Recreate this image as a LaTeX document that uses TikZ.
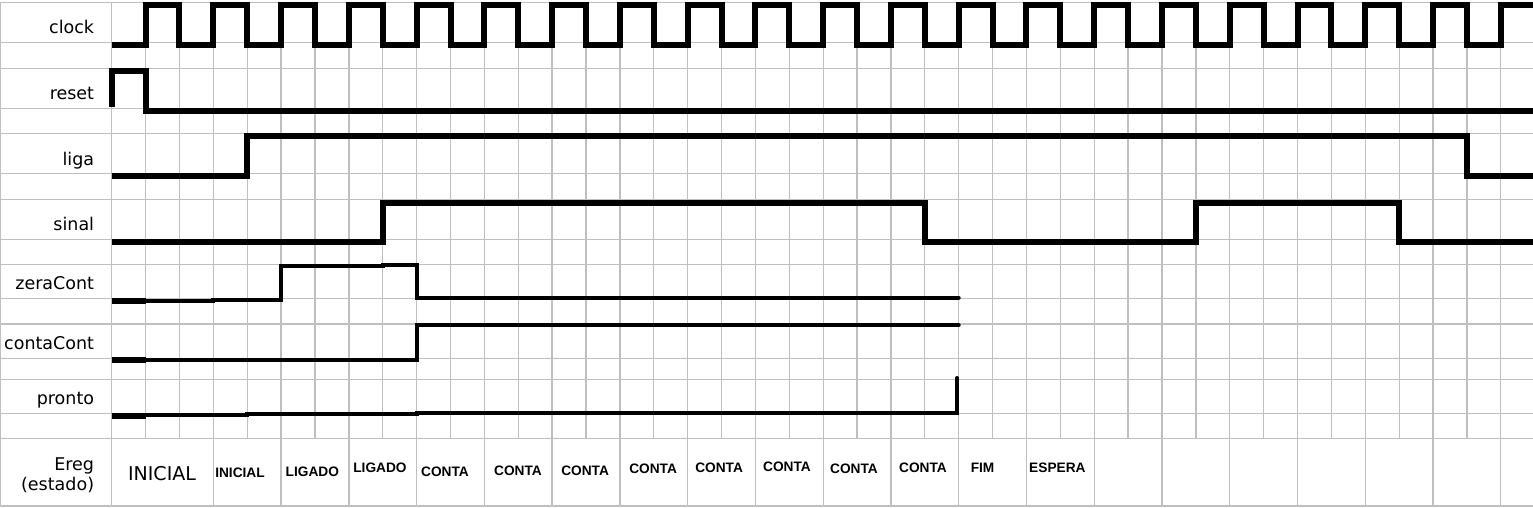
\documentclass[tikz,border=0pt]{standalone}
\usepackage{fontspec}
\setmainfont{DejaVu Sans}
\newfontfamily\statefont{Liberation Sans}
\usepackage{tikz}
\usetikzlibrary{positioning}
\definecolor{gridgray}{RGB}{191,191,191}

\begin{document}
\begin{tikzpicture}[
    x=16.939pt, y=-0.5pt,
    gridline/.style={draw=gridgray,line width=0.65pt},
    wave/.style={line width=3pt},
    thinwave/.style={line width=2pt,line cap=round},
    siglabel/.style={anchor=base east,inner sep=0pt,align=right,font=\fontsize{8.75}{10.35}\selectfont},
    statelabel/.style={anchor=base,inner sep=0pt,font=\statefont\bfseries\fontsize{6.85}{8}\selectfont}
]
\useasboundingbox (-3.297,0) rectangle (41.951,507);
% grid
\foreach \y in {2.5,42.3,68.3,108.3,133.3,173.3,199.3,239.3,264.3,298.3,324,358.3,379.3,413.3,438.3,506}
  \draw[gridline] (-3.297,\y) -- (41.951,\y);
\draw[gridline] (-3.276,2.5) -- (-3.276,506);
\foreach \k in {0,...,41}
  \draw[gridline] (\k,2.5) -- (\k,438.3);
\foreach \k in {0,3,5,...,41}
  \draw[gridline] (\k,438.3) -- (\k,506);

% signal names
\node[siglabel] (clk) at (-0.508,33.3) {clock};
\node[siglabel] (rst) at (-0.508,99.3) {reset};
\node[siglabel] (liga) at (-0.508,165) {liga};
\node[siglabel] (sinal) at (-0.508,230) {sinal};
\node[siglabel] (zera) at (-0.508,289.3) {zeraCont};
\node[siglabel] (conta) at (-0.508,349) {contaCont};
\node[siglabel] (pronto) at (-0.508,404) {pronto};
\node[siglabel] (ereg) at (-0.508,490.7) {Ereg\\(estado)};

% waveforms
\draw[wave] (0,45.3) \foreach \k in {1,3,...,39} { -- (\k,45.3) -- (\k,5.3) -- (\k+1,5.3) -- (\k+1,45.3) }
  -- (41,45.3) -- (41,5.3) -- (41.951,5.3);
\draw[wave] (0,107) -- (0,71.5) -- (1,71.5) -- (1,111.3) -- (41.951,111.3);
\draw[wave] (0,176.3) -- (4,176.3) -- (4,136.3) -- (40,136.3) -- (40,176.3) -- (41.951,176.3);
\draw[wave] (0,242.3) -- (8,242.3) -- (8,202.7) -- (24,202.7) -- (24,242.3) -- (32,242.3)
  -- (32,202.7) -- (38,202.7) -- (38,242.3) -- (41.951,242.3);

\draw[wave] (0,301) -- (1,301);
\draw[thinwave] (1,301) -- (3,301) -- (3,299.7) -- (5,299.7) -- (5,265.5) -- (8,265.5)
  -- (8,264.5) -- (9,264.5) -- (9,297.7) -- (25,297.7);
\draw[wave] (0,360.3) -- (1,360.3);
\draw[thinwave] (1,359.8) -- (9,359.8) -- (9,324.5) -- (16.5,324.5) -- (16.5,325.3) -- (25,325.3);
\draw[wave] (0,416.3) -- (1,416.3);
\draw[thinwave] (1,415.3) -- (4,415.3) -- (4,414) -- (9,414) -- (9,412.6) -- (24.95,412.6) -- (24.95,378);

% states
\node[siglabel,anchor=base,font=\fontsize{9.5}{11}\selectfont] (s0) at (1.485,480) {INICIAL};
\foreach \x/\y/\txt [count=\i] in {3.787/477.3/INICIAL, 5.921/476.7/LIGADO, 7.919/472.7/LIGADO,
    9.838/476.7/CONTA, 11.993/475/CONTA, 13.973/475/CONTA, 15.98/473.3/CONTA, 17.928/472.3/CONTA,
    19.932/471/CONTA, 21.909/473.3/CONTA, 23.946/472.3/CONTA, 25.705/472.3/FIM, 27.913/472.3/ESPERA}
  \node[statelabel] (s\i) at (\x,\y) {\txt};
\end{tikzpicture}
\end{document}
